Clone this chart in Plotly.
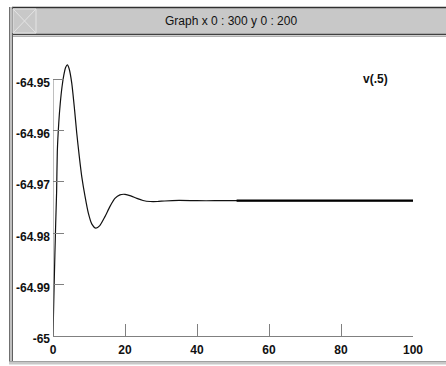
import plotly.graph_objects as go

# ---- data ----
t = [0, 0.3, 0.75, 1.0, 1.2, 1.6, 2.0, 2.5, 3.0, 3.5, 4.0, 4.5, 5.2, 6.0, 6.6, 7.3,
     8.0, 8.9, 9.8, 10.8, 11.9, 13.0, 14.4, 15.8, 17.2, 18.6, 20.0, 21.6, 23.3,
     25.0, 27.0, 29.0, 31.0, 35.0, 40.0, 45.0, 51.0, 60.0, 70.0, 80.0, 90.0, 100.0]
v = [-65.0, -64.9905, -64.9780, -64.9720, -64.9640, -64.9585, -64.9548, -64.9515,
     -64.9492, -64.9477, -64.9472, -64.9480, -64.9507, -64.9560, -64.9605, -64.9650,
     -64.9690, -64.9728, -64.9760, -64.9782, -64.9790, -64.9785, -64.9768, -64.9748,
     -64.9732, -64.9725, -64.9724, -64.9727, -64.9732, -64.9736, -64.9738, -64.9738,
     -64.9737, -64.9736, -64.97365, -64.97365, -64.97365, -64.97365, -64.97365,
     -64.97365, -64.97365, -64.97365]
bold_from = 51.0
x_ticks = [0, 20, 40, 60, 80, 100]
y_ticks = [-65, -64.99, -64.98, -64.97, -64.96, -64.95]
y_tick_labels = ["-65", "-64.99", "-64.98", "-64.97", "-64.96", "-64.95"]
title_text = "Graph x 0 : 300 y 0 : 200"
label_text = "v(.5)"

W, H = 446, 366
FONT = "Liberation Sans, Arial, sans-serif"


def px(x):
    return x / W


def py(y):
    return 1 - y / H


fig = go.Figure()
fig.add_trace(go.Scatter(x=t, y=v, mode="lines", line=dict(color="#111111", width=1.2, shape="spline", smoothing=0.6),
                         hoverinfo="skip", showlegend=False))
tb = [a for a in t if a >= bold_from]
vb = [b for a, b in zip(t, v) if a >= bold_from]
fig.add_trace(go.Scatter(x=tb, y=vb, mode="lines", line=dict(color="#000000", width=2.2),
                         hoverinfo="skip", showlegend=False))

shapes = []
# y axis line only over the tick span
shapes.append(dict(type="line", xref="x", yref="y", x0=0, x1=0, y0=y_ticks[0], y1=y_ticks[-1],
                   line=dict(color="#808080", width=1)))
# window chrome
shapes += [
    dict(type="rect", xref="paper", yref="paper", x0=px(12), x1=px(446), y0=py(7), y1=py(35),
         fillcolor="#c8c8c8", line=dict(width=0), layer="below"),
    dict(type="line", xref="paper", yref="paper", x0=px(12), x1=px(446), y0=py(7.5), y1=py(7.5),
         line=dict(color="#303030", width=1.5)),
    dict(type="line", xref="paper", yref="paper", x0=px(12), x1=px(446), y0=py(34.5), y1=py(34.5),
         line=dict(color="#404040", width=1.5)),
    dict(type="line", xref="paper", yref="paper", x0=px(12), x1=px(446), y0=py(36.5), y1=py(36.5),
         line=dict(color="#b0b0b0", width=1)),
    dict(type="rect", xref="paper", yref="paper", x0=px(9), x1=px(13), y0=py(7), y1=py(364),
         fillcolor="#c0c0c0", line=dict(width=0)),
    dict(type="line", xref="paper", yref="paper", x0=px(9.5), x1=px(9.5), y0=py(7), y1=py(364),
         line=dict(color="#707070", width=1)),
    dict(type="line", xref="paper", yref="paper", x0=px(12.5), x1=px(12.5), y0=py(7), y1=py(364),
         line=dict(color="#606060", width=1)),
    dict(type="rect", xref="paper", yref="paper", x0=px(9), x1=px(446), y0=py(362), y1=py(364.5),
         fillcolor="#c8c8c8", line=dict(width=0)),
    dict(type="line", xref="paper", yref="paper", x0=px(9), x1=px(446), y0=py(361.5), y1=py(361.5),
         line=dict(color="#a0a0a0", width=1)),
    # close box
    dict(type="rect", xref="paper", yref="paper", x0=px(13), x1=px(36), y0=py(9), y1=py(33),
         line=dict(color="#e4e4e4", width=1)),
    dict(type="line", xref="paper", yref="paper", x0=px(13), x1=px(36), y0=py(9), y1=py(33),
         line=dict(color="#e4e4e4", width=1)),
    dict(type="line", xref="paper", yref="paper", x0=px(13), x1=px(36), y0=py(33), y1=py(9),
         line=dict(color="#e4e4e4", width=1)),
]

annotations = [
    dict(text=title_text, xref="paper", yref="paper", x=px(231), y=py(21), showarrow=False,
         font=dict(family=FONT, size=12, color="#111111"), xanchor="center", yanchor="middle"),
    dict(text="<b>" + label_text + "</b>", xref="paper", yref="paper", x=px(375), y=py(79), showarrow=False,
         font=dict(family=FONT, size=12, color="#111111"), xanchor="center", yanchor="middle"),
]

y_top = -65 + (336 - 37) * 0.05 / (336 - 79.3)

fig.update_layout(
    autosize=True, margin=dict(l=0, r=0, t=0, b=0, autoexpand=False),
    paper_bgcolor="white", plot_bgcolor="white",
    shapes=shapes, annotations=annotations, showlegend=False,
    xaxis=dict(domain=[px(53), px(413)], range=[0, 100], tickvals=x_ticks,
               ticktext=["<b>%d</b>" % a for a in x_ticks],
               ticks="inside", ticklen=12, tickcolor="#808080", tickwidth=1,
               showline=True, linecolor="#808080", linewidth=1, showgrid=False, zeroline=False,
               ticklabelstandoff=3,
               tickfont=dict(family=FONT, size=12, color="#111111"), fixedrange=True),
    yaxis=dict(domain=[py(336), py(37)], range=[-65, y_top], tickvals=y_ticks,
               ticktext=["<b>%s</b>" % s for s in y_tick_labels],
               ticks="inside", ticklen=11, tickcolor="#808080", tickwidth=1,
               showline=False, showgrid=False, zeroline=False, ticklabelshift=3, ticklabelstandoff=2,
               tickfont=dict(family=FONT, size=12, color="#111111"), fixedrange=True),
)

fig.write_html("out.html", config={"displayModeBar": False, "responsive": True},
               default_width="100vw", default_height="100vh",
               post_script="document.body.style.margin='0';document.body.style.overflow='hidden';"
                           "document.documentElement.style.overflow='hidden';")
